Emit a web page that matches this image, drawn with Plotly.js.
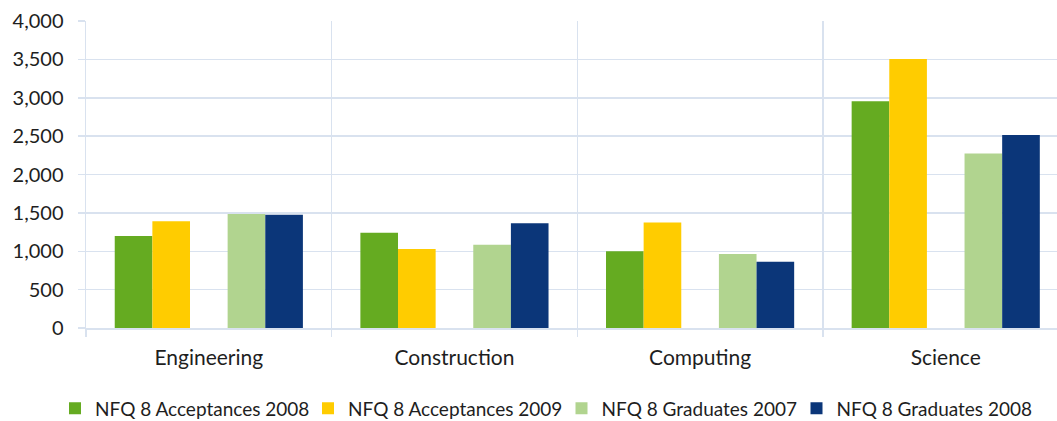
<!DOCTYPE html>
<html>
<head>
<meta charset="utf-8">
<script src="https://cdn.plot.ly/plotly-3.0.1.min.js"></script>
<style>html,body{margin:0;padding:0;background:#fff;}#chart{width:1057px;height:421px;}</style>
</head>
<body>
<div id="chart"></div>
<script>
var categories = ["Engineering", "Construction", "Computing", "Science"];
var acceptances2008 = [1200, 1240, 1000, 2955];
var acceptances2009 = [1390, 1030, 1375, 3505];
var graduates2007 = [1485, 1085, 965, 2275];
var graduates2008 = [1475, 1365, 862, 2515];
var spacer = [null, null, null, null];

var FONT = "Lato, 'Liberation Sans', sans-serif";
var GRID = "#d9e2ef";
var W = 1057;

var traces = [
  {type: "bar", name: "NFQ 8 Acceptances 2008", x: categories, y: acceptances2008, marker: {color: "#65ab21"}, legend: "legend"},
  {type: "bar", name: "NFQ 8 Acceptances 2009", x: categories, y: acceptances2009, marker: {color: "#ffcc00"}, legend: "legend2"},
  {type: "bar", name: "", x: categories, y: spacer, showlegend: false, hoverinfo: "skip", marker: {color: "rgba(0,0,0,0)"}},
  {type: "bar", name: "NFQ 8 Graduates 2007", x: categories, y: graduates2007, marker: {color: "#b1d48f"}, legend: "legend3"},
  {type: "bar", name: "NFQ 8 Graduates 2008", x: categories, y: graduates2008, marker: {color: "#0b3679"}, legend: "legend4"}
];

function leg(left) {
  return {orientation: "h", xref: "container", x: left / W, xanchor: "left",
          yref: "container", y: 0.0297, yanchor: "middle",
          font: {family: FONT, size: 19, color: "#1e1e1e"}, itemwidth: 30,
          bgcolor: "rgba(0,0,0,0)", borderwidth: 0};
}

var layout = {
  width: W, height: 421,
  margin: {l: 86, r: 0, t: 21, b: 93, pad: 0},
  paper_bgcolor: "#ffffff", plot_bgcolor: "#ffffff",
  barmode: "group", bargap: 0.234, bargroupgap: 0,
  font: {family: FONT, size: 20, color: "#1e1e1e"},
  showlegend: true,
  legend: leg(55),
  legend2: leg(308),
  legend3: leg(561.5),
  legend4: leg(796.5),
  xaxis: {type: "category", range: [-0.5, 3.453], tickson: "boundaries", ticks: "outside", ticklen: 7,
          tickcolor: GRID, tickwidth: 1.5, showgrid: true, gridcolor: GRID, gridwidth: 1.5,
          showline: true, linecolor: GRID, linewidth: 1.5, ticklabelstandoff: 10,
          tickfont: {family: FONT, size: 21, color: "#1e1e1e"}, fixedrange: true},
  yaxis: {range: [0, 4000], dtick: 500, tick0: 0, tickformat: ",d", ticks: "outside", ticklen: 7,
          tickcolor: GRID, tickwidth: 1.5, showgrid: true, gridcolor: GRID, gridwidth: 1.5,
          showline: true, linecolor: GRID, linewidth: 1.5, zeroline: false, ticklabelstandoff: 10,
          tickfont: {family: FONT, size: 20, color: "#1e1e1e"}, fixedrange: true}
};

Plotly.newPlot("chart", traces, layout, {displayModeBar: false, staticPlot: true});
</script>
</body>
</html>
